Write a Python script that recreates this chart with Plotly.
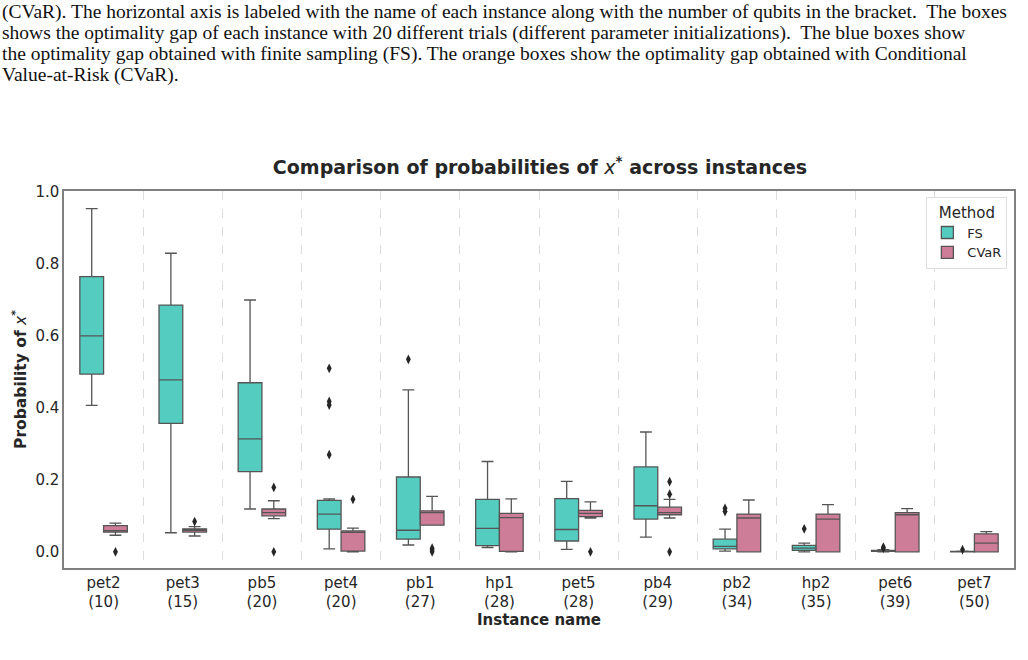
import plotly.graph_objects as go

# ---------------- data ----------------
instances = ["pet2", "pet3", "pb5", "pet4", "pb1", "hp1", "pet5", "pb4", "pb2", "hp2", "pet6", "pet7"]
qubits = [10, 15, 20, 20, 27, 28, 28, 29, 34, 35, 39, 50]

fs_lower = [0.407, 0.053, 0.119, 0.008, 0.019, 0.012, 0.007, 0.041, 0.002, 0.000, 0.000, 0.000]
fs_q1 = [0.494, 0.357, 0.223, 0.063, 0.035, 0.017, 0.030, 0.091, 0.008, 0.004, 0.001, 0.000]
fs_median = [0.600, 0.478, 0.314, 0.105, 0.060, 0.065, 0.062, 0.128, 0.015, 0.010, 0.002, 0.000]
fs_q3 = [0.765, 0.686, 0.470, 0.143, 0.208, 0.146, 0.148, 0.236, 0.035, 0.018, 0.004, 0.001]
fs_upper = [0.954, 0.830, 0.700, 0.147, 0.450, 0.251, 0.196, 0.333, 0.063, 0.024, 0.006, 0.002]
fs_outliers = [[], [], [], [0.510, 0.418, 0.408, 0.270], [0.535], [], [], [], [0.121, 0.112], [0.064], [0.010, 0.013], [0.006]]

cv_lower = [0.046, 0.044, 0.092, 0.000, 0.074, 0.000, 0.094, 0.094, 0.000, 0.000, 0.000, 0.000]
cv_q1 = [0.055, 0.055, 0.100, 0.002, 0.074, 0.001, 0.098, 0.103, 0.000, 0.000, 0.000, 0.000]
cv_median = [0.059, 0.060, 0.109, 0.054, 0.109, 0.095, 0.107, 0.109, 0.094, 0.091, 0.103, 0.024]
cv_q3 = [0.073, 0.064, 0.119, 0.058, 0.114, 0.107, 0.115, 0.124, 0.105, 0.105, 0.109, 0.050]
cv_upper = [0.080, 0.070, 0.142, 0.066, 0.154, 0.147, 0.139, 0.146, 0.144, 0.131, 0.120, 0.056]
cv_outliers = [[0.0], [0.084], [0.179, 0.0], [0.146], [0.010, 0.005, 0.0], [], [0.0], [0.195, 0.160, 0.0], [], [], [], []]

methods = ["FS", "CVaR"]
colors = {"FS": "#54CCC0", "CVaR": "#CE7D98"}

caption_lines = [
    "(CVaR). The horizontal axis is labeled with the name of each instance along with the number of qubits in the bracket.  The boxes",
    "shows the optimality gap of each instance with 20 different trials (different parameter initializations).  The blue boxes show",
    "the optimality gap obtained with finite sampling (FS). The orange boxes show the optimality gap obtained with Conditional",
    "Value-at-Risk (CVaR).",
]
caption_y_px = [12, 33, 54, 75]

# ---------------- figure ----------------
W, H = 1028, 660
ML, MR, MT, MB = 64, 12, 191, 92
xs = list(range(len(instances)))
ticktext = [f"{n}<br>({q})" for n, q in zip(instances, qubits)]
edge = "#555555"
box_w = 0.3

fig = go.Figure()
stats = {
    "FS": (fs_lower, fs_q1, fs_median, fs_q3, fs_upper, fs_outliers, -box_w / 2),
    "CVaR": (cv_lower, cv_q1, cv_median, cv_q3, cv_upper, cv_outliers, box_w / 2),
}
for m in methods:
    lo, q1, med, q3, up, outs, off = stats[m]
    fig.add_trace(go.Box(
        name=m, x=xs, lowerfence=lo, q1=q1, median=med, q3=q3, upperfence=up,
        fillcolor=colors[m], line=dict(color=edge, width=1.3),
        whiskerwidth=0.5, boxpoints=False, hoverinfo="skip",
        offsetgroup=m,
    ))
for m in methods:
    lo, q1, med, q3, up, outs, off = stats[m]
    ox, oy = [], []
    for i, vals in enumerate(outs):
        for v in vals:
            ox.append(i + off)
            oy.append(v)
    fig.add_trace(go.Scatter(
        x=ox, y=oy, mode="markers", showlegend=False, hoverinfo="skip",
        marker=dict(symbol="diamond-tall", size=7, color="#262626"),
    ))

for ln, ypx in zip(caption_lines, caption_y_px):
    fig.add_annotation(
        text=ln, xref="paper", yref="paper",
        x=(0 - ML) / (W - ML - MR), y=(H - MB - ypx) / (H - MT - MB),
        xanchor="left", yanchor="middle", showarrow=False,
        font=dict(family="Liberation Serif", size=19.5, color="#111111"),
    )

fig.update_layout(
    width=W, height=H,
    margin=dict(l=ML, r=MR, t=MT, b=MB),
    paper_bgcolor="white", plot_bgcolor="white",
    boxmode="group", boxgap=0.4, boxgroupgap=0.0,
    font=dict(family="DejaVu Sans", size=15, color="#262626"),
    title=dict(
        text="<b>Comparison of probabilities of <span style='font-weight:normal'><i>x</i></span><sup>*</sup> across instances</b>",
        x=(ML + (W - ML - MR) / 2) / W, xanchor="center",
        y=1 - 167 / H, yanchor="middle",
        font=dict(size=19, color="#262626"),
    ),
    legend=dict(
        title=dict(text="Method", side="top center", font=dict(size=15)),
        x=0.993, y=0.984, xanchor="right", yanchor="top",
        bgcolor="white", bordercolor="#dddddd", borderwidth=1,
        font=dict(size=13), tracegroupgap=0,
    ),
)
fig.update_xaxes(
    range=[-0.5, len(instances) - 0.5],
    tickmode="array", tickvals=xs, ticktext=ticktext,
    showgrid=False, zeroline=False,
    showline=True, mirror=True, linecolor="#808080", linewidth=1.5,
    ticks="", tickfont=dict(size=15),
    minor=dict(tickvals=[i + 0.5 for i in xs[:-1]], showgrid=True,
               gridcolor="#dcdcdc", griddash="dash", gridwidth=1, ticks=""),
    title=dict(text="<b>Instance name</b>", font=dict(size=15), standoff=0),
)
fig.update_yaxes(
    range=[-0.045, 1.003],
    tickmode="array", tickvals=[0, 0.2, 0.4, 0.6, 0.8, 1.0],
    tickformat=".1f", showgrid=False, zeroline=False,
    showline=True, mirror=True, linecolor="#808080", linewidth=1.5,
    ticks="", tickfont=dict(size=15),
    title=dict(text="<b>Probability of <span style='font-weight:normal'><i>x</i></span><sup>*</sup></b>",
               font=dict(size=15.5), standoff=5),
)

fig.write_html("out.html")
